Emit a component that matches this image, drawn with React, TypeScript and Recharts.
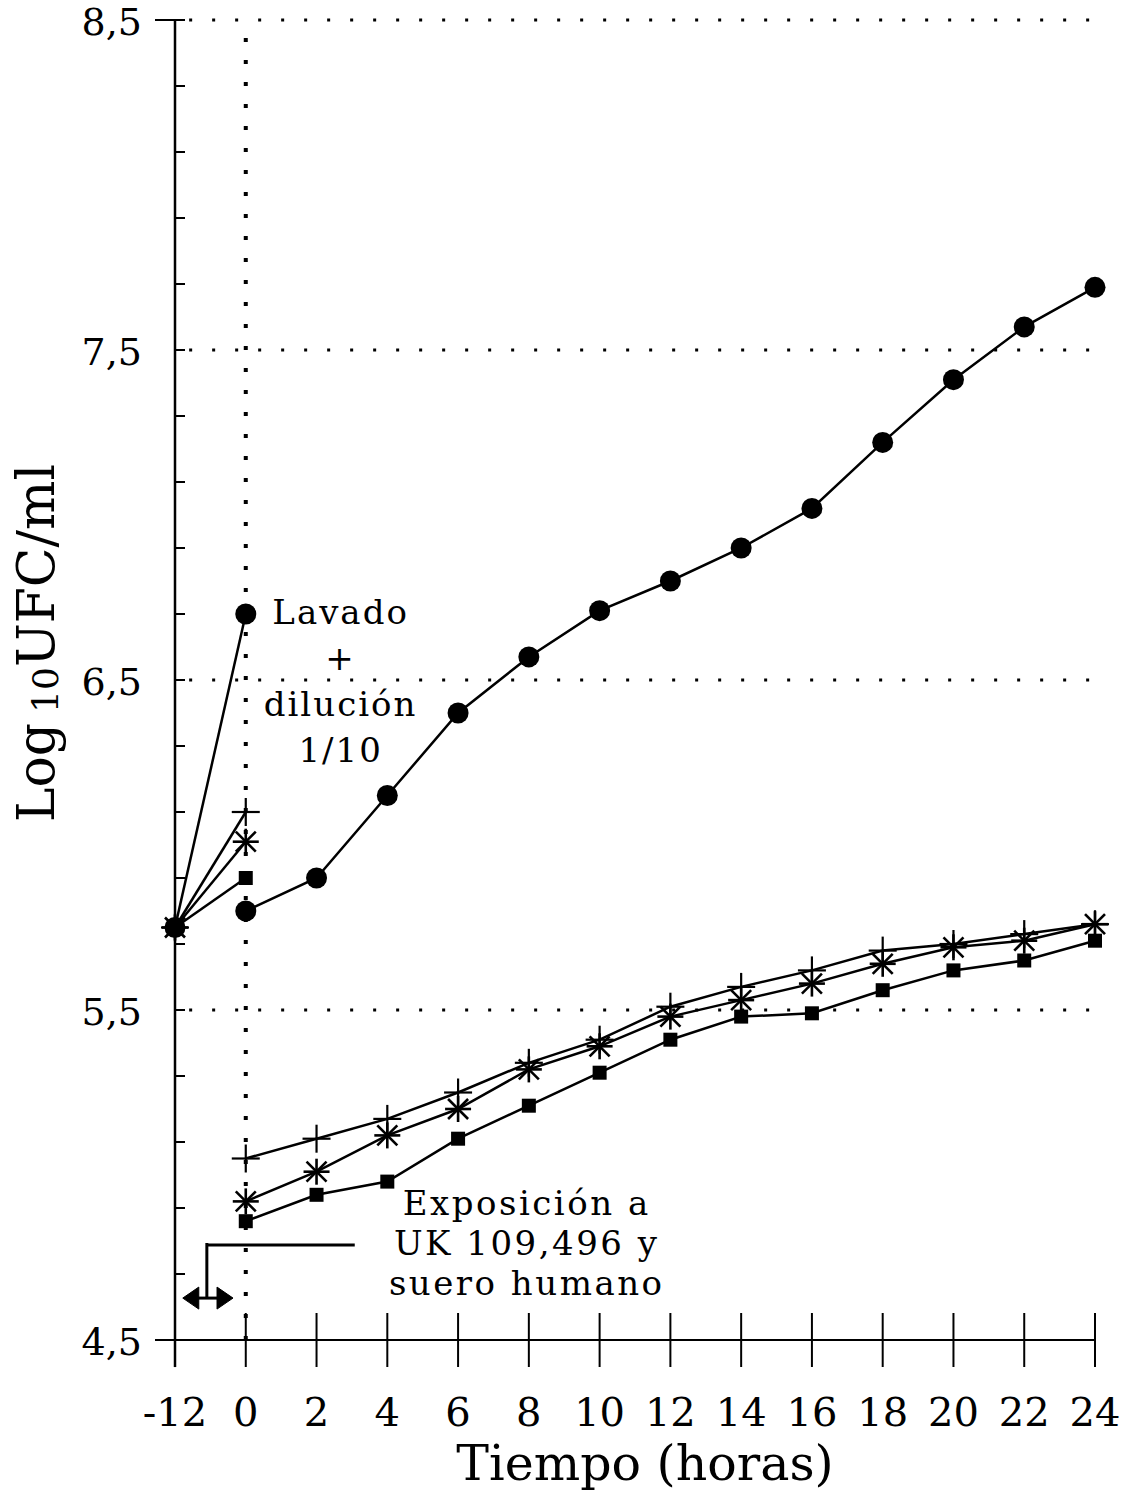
import React from 'react';
import { LineChart, Line, XAxis, YAxis, ReferenceLine, ReferenceDot } from 'recharts';

// x positions are category indexes: 0 -> -12 h, 1 -> 0 h, 2 -> 2 h ...
const xLabels = ['-12', '0', '2', '4', '6', '8', '10', '12', '14', '16', '18', '20', '22', '24'];
const yTicks = [4.5, 4.7, 4.9, 5.1, 5.3, 5.5, 5.7, 5.9, 6.1, 6.3, 6.5, 6.7, 6.9, 7.1, 7.3, 7.5, 7.7, 7.9, 8.1, 8.3, 8.5];
const yLabelled = [4.5, 5.5, 6.5, 7.5, 8.5];
const gridValues = [5.5, 6.5, 7.5, 8.5];

// before washing + dilution (-12 h -> 0 h)
const circlePre = [5.75, 6.7];
const plusPre = [5.75, 6.1];
const starPre = [5.75, 6.01];
const squarePre = [5.75, 5.9];

// after dilution, 0 h .. 24 h
const circleVals = [5.8, 5.9, 6.15, 6.4, 6.57, 6.71, 6.8, 6.9, 7.02, 7.22, 7.41, 7.57, 7.69];
const plusVals = [5.05, 5.11, 5.17, 5.25, 5.34, 5.41, 5.51, 5.57, 5.62, 5.68, 5.7, 5.73, 5.76];
const starVals = [4.92, 5.01, 5.12, 5.2, 5.32, 5.39, 5.48, 5.53, 5.58, 5.64, 5.69, 5.71, 5.76];
const squareVals = [4.86, 4.94, 4.98, 5.11, 5.21, 5.31, 5.41, 5.48, 5.49, 5.56, 5.62, 5.65, 5.71];

const FONT = '"DejaVu Serif", "Liberation Serif", serif';

const rows = xLabels.map((_, i) => ({
    i,
    circlePre: i < 2 ? circlePre[i] : null,
    plusPre: i < 2 ? plusPre[i] : null,
    starPre: i < 2 ? starPre[i] : null,
    squarePre: i < 2 ? squarePre[i] : null,
    circle: i >= 1 ? circleVals[i - 1] : null,
    plus: i >= 1 ? plusVals[i - 1] : null,
    star: i >= 1 ? starVals[i - 1] : null,
    square: i >= 1 ? squareVals[i - 1] : null,
}));

const marker = (kind: string) => (props: any) => {
    const { cx, cy, value, index } = props;
    const key = `${kind}-${index}`;
    if (value == null || cx == null || cy == null) return <g key={key} />;
    if (kind === 'circle') return <circle key={key} cx={cx} cy={cy} r={10.5} fill="#000" />;
    if (kind === 'square') return <rect key={key} x={cx - 7} y={cy - 7} width={14} height={14} fill="#000" />;
    if (kind === 'plus') {
        return (
            <g key={key} stroke="#000" strokeWidth={2.2}>
                <line x1={cx - 14} x2={cx + 14} y1={cy} y2={cy} />
                <line x1={cx} x2={cx} y1={cy - 14} y2={cy + 14} />
            </g>
        );
    }
    const d = 10;
    return (
        <g key={key} stroke="#000" strokeWidth={2.6}>
            <line x1={cx - 13} x2={cx + 13} y1={cy} y2={cy} />
            <line x1={cx} x2={cx} y1={cy - 13} y2={cy + 13} />
            <line x1={cx - d} x2={cx + d} y1={cy - d} y2={cy + d} />
            <line x1={cx - d} x2={cx + d} y1={cy + d} y2={cy - d} />
        </g>
    );
};

const XTick = ({ x, y, payload }: any) => (
    <g>
        <line x1={x} x2={x} y1={y - 27} y2={y + 27} stroke="#000" strokeWidth={2} />
        <text x={x} y={y + 86} textAnchor="middle" fontSize={40} fontFamily={FONT} fill="#000">
            {xLabels[payload.value]}
        </text>
    </g>
);

const YTick = ({ x, y, payload }: any) => {
    const v = payload.value;
    const labelled = yLabelled.some(l => Math.abs(l - v) < 0.01);
    const top = Math.abs(v - 8.5) < 0.01;
    const bottom = Math.abs(v - 4.5) < 0.01;
    return (
        <g>
            <line x1={top || bottom ? x - 20 : x} x2={bottom ? x : x + 10} y1={y} y2={y} stroke="#000" strokeWidth={2} />
            {labelled && (
                <text x={x - 33} y={y + 15} textAnchor="end" fontSize={38} fontFamily={FONT} fill="#000">
                    {String(v).replace('.', ',')}
                </text>
            )}
        </g>
    );
};

const TextBlock = (lines: string[], size: number, gap: number, spacing: number) => (props: any) => {
    const { cx, cy } = props;
    return (
        <text
            x={cx}
            y={cy}
            textAnchor="middle"
            fontSize={size}
            fontFamily={FONT}
            letterSpacing={spacing}
            fill="#000"
        >
            {lines.map((l, k) => (
                <tspan key={k} x={cx} dy={k === 0 ? 0 : gap}>{l}</tspan>
            ))}
        </text>
    );
};

const ArrowShape = (props: any) => {
    const { x1, y1, x2, y2 } = props;
    const h = 16;
    const w = 11;
    return (
        <g fill="#000" stroke="#000">
            <line x1={x1 + h - 2} x2={x2 - h + 2} y1={y1} y2={y2} strokeWidth={3} />
            <polygon points={`${x1},${y1} ${x1 + h},${y1 - w} ${x1 + h},${y1 + w}`} />
            <polygon points={`${x2},${y2} ${x2 - h},${y2 - w} ${x2 - h},${y2 + w}`} />
        </g>
    );
};

const lineProps = {
    type: 'linear' as const,
    stroke: '#000',
    strokeWidth: 2.5,
    activeDot: false as const,
    isAnimationActive: false,
    connectNulls: false,
};

export default function App() {
    return (
        <div style={{ position: 'absolute', left: 0, top: 0, background: '#fff' }}>
            <LineChart width={1124} height={1496} data={rows} margin={{ top: 20, right: 29, left: 0, bottom: 0 }}>
                <XAxis
                    dataKey="i"
                    type="number"
                    domain={[0, 13]}
                    ticks={xLabels.map((_, i) => i)}
                    interval={0}
                    height={156}
                    tickSize={0}
                    tickMargin={0}
                    tickLine={false}
                    axisLine={{ stroke: '#000', strokeWidth: 2 }}
                    tick={<XTick />}
                    label={{
                        content: () => (
                            <text x={645} y={1480} textAnchor="middle" fontSize={49} fontFamily={FONT} fill="#000">
                                Tiempo (horas)
                            </text>
                        ),
                    }}
                />
                <YAxis
                    type="number"
                    domain={[4.5, 8.5]}
                    ticks={yTicks}
                    interval={0}
                    width={175}
                    tickSize={0}
                    tickMargin={0}
                    tickLine={false}
                    axisLine={{ stroke: '#000', strokeWidth: 2.5 }}
                    tick={<YTick />}
                    label={{
                        content: () => (
                            <text
                                x={54}
                                y={643}
                                transform="rotate(-90 54 643)"
                                textAnchor="middle"
                                fontSize={52}
                                fontFamily={FONT}
                                fill="#000"
                            >
                                Log
                                <tspan fontSize={36} dx={10} dy={4}>10</tspan>
                                <tspan dy={-4}>UFC/ml</tspan>
                            </text>
                        ),
                    }}
                />

                {gridValues.map(v => (
                    <ReferenceLine
                        key={`g-${v}`}
                        segment={[{ x: 0.2, y: v }, { x: 13, y: v }]}
                        stroke="#000"
                        strokeWidth={3}
                        strokeDasharray="3 20"
                        ifOverflow="visible"
                    />
                ))}
                <ReferenceLine
                    segment={[{ x: 1, y: 4.5 }, { x: 1, y: 8.5 }]}
                    stroke="#000"
                    strokeWidth={4}
                    strokeDasharray="4 18"
                    ifOverflow="visible"
                />
                {/* axis stub below origin */}
                <ReferenceLine
                    segment={[{ x: 0, y: 4.5 }, { x: 0, y: 4.418 }]}
                    stroke="#000"
                    strokeWidth={2.5}
                    ifOverflow="visible"
                />

                {/* exposure bracket */}
                <ReferenceLine
                    segment={[{ x: 0.45, y: 4.788 }, { x: 2.54, y: 4.788 }]}
                    stroke="#000"
                    strokeWidth={3}
                    ifOverflow="visible"
                />
                <ReferenceLine
                    segment={[{ x: 0.45, y: 4.794 }, { x: 0.45, y: 4.63 }]}
                    stroke="#000"
                    strokeWidth={3}
                    ifOverflow="visible"
                />
                <ReferenceLine
                    segment={[{ x: 0.11, y: 4.627 }, { x: 0.82, y: 4.627 }]}
                    shape={<ArrowShape />}
                    ifOverflow="visible"
                />

                <Line dataKey="circlePre" {...lineProps} dot={marker('circle')} />
                <Line dataKey="plusPre" {...lineProps} dot={marker('plus')} />
                <Line dataKey="starPre" {...lineProps} dot={marker('star')} />
                <Line dataKey="squarePre" {...lineProps} dot={marker('square')} />
                <Line dataKey="circle" {...lineProps} dot={marker('circle')} />
                <Line dataKey="plus" {...lineProps} dot={marker('plus')} />
                <Line dataKey="star" {...lineProps} dot={marker('star')} />
                <Line dataKey="square" {...lineProps} dot={marker('square')} />

                <ReferenceDot
                    x={2.34}
                    y={6.67}
                    r={0}
                    ifOverflow="visible"
                    shape={TextBlock(['Lavado', '+', 'dilución', '1/10'], 34, 46, 2)}
                />
                <ReferenceDot
                    x={4.97}
                    y={4.879}
                    r={0}
                    ifOverflow="visible"
                    shape={TextBlock(['Exposición a', 'UK 109,496 y', 'suero humano'], 34, 40, 2.5)}
                />
            </LineChart>
        </div>
    );
}
